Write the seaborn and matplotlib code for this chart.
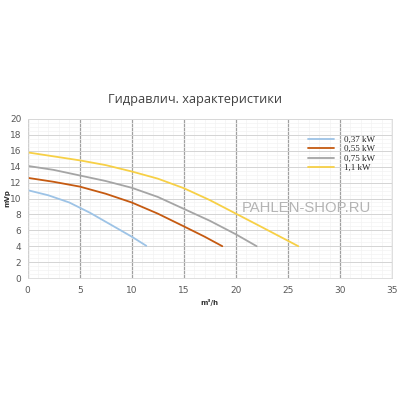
import seaborn as sns
import pandas as pd
import matplotlib.pyplot as plt

# curves
x_037 = [0, 2, 4, 6, 8, 10, 11.4]
y_037 = [11.05, 10.4, 9.5, 8.2, 6.7, 5.2, 4.05]
x_055 = [0, 2.5, 5, 7.5, 10, 12.5, 15, 17, 18.7]
y_055 = [12.6, 12.1, 11.5, 10.6, 9.5, 8.1, 6.5, 5.2, 4.0]
x_075 = [0, 2.5, 5, 7.5, 10, 12.5, 15, 17.5, 20, 22]
y_075 = [14.1, 13.6, 12.9, 12.2, 11.35, 10.2, 8.7, 7.2, 5.5, 4.0]
x_11 = [0, 2.5, 5, 7.5, 10, 12.5, 15, 17.5, 20, 22.5, 26]
y_11 = [15.8, 15.3, 14.8, 14.2, 13.4, 12.5, 11.3, 9.8, 8.1, 6.4, 4.0]

labels = ['0,37 kW', '0,55 kW', '0,75 kW', '1,1 kW']
colors = ['#9DC3E6', '#C55A11', '#A5A5A5', '#F7D046']

frames = []
for lab, xs, ys in zip(labels, [x_037, x_055, x_075, x_11], [y_037, y_055, y_075, y_11]):
    frames.append(pd.DataFrame({'q': xs, 'h': ys, 'pump': lab}))
df = pd.concat(frames, ignore_index=True)

sns.set_style('white')
fig = plt.figure(figsize=(4, 4), dpi=100)
ax = fig.add_axes([0.069, 0.305, 0.911, 0.3975])

sns.lineplot(data=df, x='q', y='h', hue='pump', palette=colors, sort=False,
             linewidth=1.3, ax=ax, legend=True)

ax.set_xlim(0, 35)
ax.set_ylim(0, 20)
ax.set_xticks(range(0, 36, 5))
ax.set_yticks(range(0, 21, 2))
ax.set_xticks(range(0, 36, 1), minor=True)
ax.set_yticks([i * 0.5 for i in range(41)], minor=True)
ax.grid(True, which='minor', color='#f3f3f3', linewidth=0.5)
ax.grid(True, axis='x', which='major', color='#a0a0a0', linewidth=0.9)
ax.grid(True, axis='y', which='major', color='#d4d4d4', linewidth=0.7)
ax.set_axisbelow(True)
for s in ax.spines.values():
    s.set_color('#d9d9d9')
    s.set_linewidth(0.6)
ax.tick_params(which='both', length=0, labelsize=6.5, labelcolor='#595959')
ax.tick_params(axis='x', pad=6)
ax.tick_params(axis='y', pad=4.5)

ax.set_xlabel('m³/h', fontsize=5, fontweight='bold', color='#333333')
ax.xaxis.set_label_coords(0.5, -0.13)
ax.set_ylabel('mVp', fontsize=5, fontweight='bold', color='#333333')
ax.yaxis.set_label_coords(-0.047, 0.5)

ax.legend(loc='upper left', bbox_to_anchor=(0.748, 0.947), frameon=False,
          handlelength=2.8, handletextpad=1.2, labelspacing=0.12,
          prop={'family': 'Liberation Serif', 'size': 6.5})

fig.text(0.4875, 0.75, 'Гидравлич. характеристики', ha='center', va='center',
         fontsize=9.2, color='#404040', family='Open Sans')
ax.text(0.764, 0.44, 'PAHLEN-SHOP.RU', transform=ax.transAxes, ha='center',
        va='center', fontsize=10.7, color='#b4b4b4', family='Liberation Sans')

fig.savefig('out.png', dpi=100, facecolor='white')
